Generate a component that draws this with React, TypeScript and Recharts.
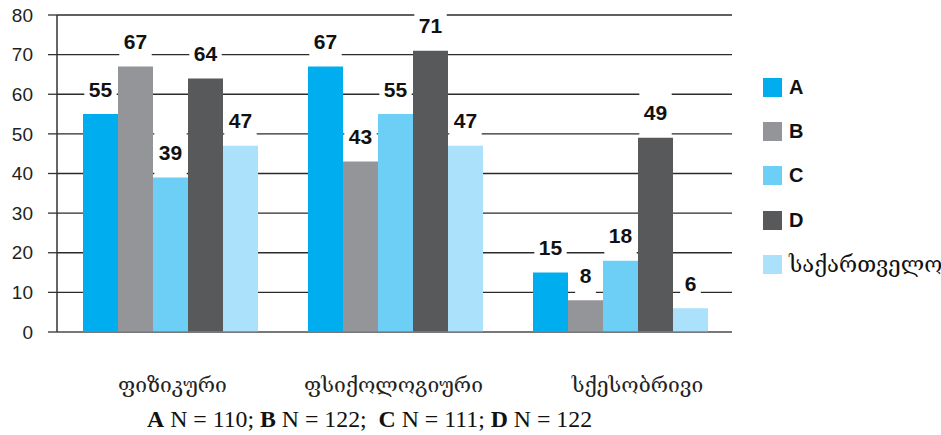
import React from "react"
import { BarChart, Bar, XAxis, YAxis, CartesianGrid, LabelList } from "recharts"

const categories = ["ფიზიკური", "ფსიქოლოგიური", "სქესობრივი"]
const seriesA = [55, 67, 15]
const seriesB = [67, 43, 8]
const seriesC = [39, 55, 18]
const seriesD = [64, 71, 49]
const seriesGeo = [47, 47, 6]
const seriesNames = ["A", "B", "C", "D", "საქართველო"]
const seriesColors = ["#00AEEF", "#939598", "#6DCFF6", "#58595B", "#ABE1FA"]
const yTicks = [0, 10, 20, 30, 40, 50, 60, 70, 80]

const data = categories.map((name, i) => ({
  name,
  s0: seriesA[i],
  s1: seriesB[i],
  s2: seriesC[i],
  s3: seriesD[i],
  s4: seriesGeo[i],
}))

const GEO_FONT = "'DejaVu Serif', 'DejaVu Sans', serif"
const SANS = "'Liberation Sans', Arial, sans-serif"

// value label with a white box behind it, which hides the gridlines
const ValueLabel = (props: any) => {
  const { x, y, width, value } = props
  const cx = x + width / 2
  const txt = String(value)
  const w = txt.length * 11.7 + 9
  return (
    <g>
      <rect x={cx - w / 2} y={y - 45} width={w} height={43} fill="#fff" />
      <text
        x={cx}
        y={y - 25}
        textAnchor="middle"
        dominantBaseline="central"
        fontFamily={SANS}
        fontWeight="bold"
        fontSize={21}
        fill="#111"
      >
        {txt}
      </text>
    </g>
  )
}

const CategoryTick = (props: any) => {
  const { x, y, payload, index } = props
  const shift = [3, -1, 18][index] ?? 0
  return (
    <text x={x + shift} y={y + 45} textAnchor="middle" dominantBaseline="central" fontFamily={GEO_FONT} fontSize={21} fill="#222">
      {payload.value}
    </text>
  )
}

const LegendBox = () => (
  <div style={{ position: "absolute", left: 763, top: 65, width: 178 }}>
    {seriesNames.map((n, i) => (
      <div key={n} style={{ display: "flex", alignItems: "center", height: 44.3 }}>
        <div style={{ width: 19, height: 19, background: seriesColors[i], marginRight: 7, flexShrink: 0 }} />
        <span
          style={{
            fontFamily: i < 4 ? SANS : GEO_FONT,
            fontWeight: i < 4 ? "bold" : "normal",
            fontSize: i < 4 ? 20 : 22,
            color: "#111",
            whiteSpace: "nowrap",
          }}
        >
          {n}
        </span>
      </div>
    ))}
  </div>
)

export default function App() {
  return (
    <div style={{ position: "absolute", left: 0, top: 0, width: 941, height: 435, background: "#fff", overflow: "hidden" }}>
      <BarChart
        width={941}
        height={435}
        data={data}
        margin={{ top: 15, right: 209, bottom: 0, left: 0 }}
        barCategoryGap={26}
        barGap={0}
      >
        <CartesianGrid vertical={false} stroke="#2b2b2b" strokeWidth={1.3} />
        <XAxis
          dataKey="name"
          height={103}
          axisLine={{ stroke: "#808080", strokeWidth: 1.5 }}
          tickLine={false}
          tick={<CategoryTick />}
          interval={0}
        />
        <YAxis
          width={57}
          domain={[0, 80]}
          ticks={yTicks}
          interval={0}
          tickSize={9}
          tickMargin={15}
          axisLine={{ stroke: "#333", strokeWidth: 1.5 }}
          tickLine={{ stroke: "#333", strokeWidth: 1.3 }}
          tick={{ fontFamily: SANS, fontSize: 19, fill: "#231F20" }}
        />
        {seriesNames.map((n, i) => (
          <Bar key={n} dataKey={`s${i}`} name={n} fill={seriesColors[i]} isAnimationActive={false}>
            <LabelList dataKey={`s${i}`} content={<ValueLabel />} />
          </Bar>
        ))}
      </BarChart>
      <LegendBox />
      <div
        style={{
          position: "absolute",
          left: 147,
          top: 405,
          fontFamily: "'Liberation Serif', 'Times New Roman', serif",
          fontSize: 23.8,
          lineHeight: "28px",
          color: "#111",
          whiteSpace: "pre",
        }}
      >
        <b>A</b> N = 110; <b>B</b> N = 122;  <b>C</b> N = 111; <b>D</b> N = 122
      </div>
    </div>
  )
}
